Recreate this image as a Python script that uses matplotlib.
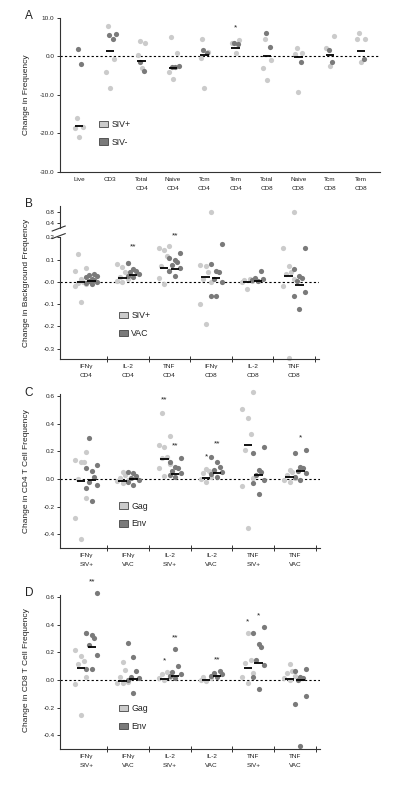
import numpy as np
import matplotlib
matplotlib.use("Agg")
from matplotlib import pyplot as plt
from matplotlib.patches import Patch

plt.rcParams['font.family'] = ['Liberation Sans', 'DejaVu Sans']

LIGHT = '#cbcbcb'
DARK = '#7a7a7a'
TXT = '#222222'

# ---- panel A : change in frequency ----
a_cats = ["Live", "CD3", "Total\nCD4", "Naive\nCD4", "Tcm\nCD4", "Tem\nCD4",
          "Total\nCD8", "Naive\nCD8", "Tcm\nCD8", "Tem\nCD8"]
a_pos = [[-16.1, -18.5, -18.7, -21.1],
         [7.9, -0.7, -4.2, -8.3],
         [3.4, 4.0, 0.3, -3.1],
         [5.1, 0.8, -4.0, -5.9],
         [4.5, 1.2, -0.5, -8.3],
         [4.2, 3.4, 0.8],
         [4.5, -1.0, -3.1, -6.3],
         [2.1, 0.8, 0.5, -9.3],
         [5.3, 2.1, -2.5],
         [6.1, 4.4, 4.4, -1.6]]
a_neg = [[1.9, -2.1],
         [4.5, 5.7, 5.6],
         [-1.5, -3.9],
         [-2.5, -2.9, -2.8],
         [1.6, 0.8],
         [3.1, 3.3],
         [6.0, 2.5],
         [-1.5],
         [1.5, -1.5],
         [-0.6]]
a_med = [-18.0, 1.3, -1.3, -3.1, 0.3, 2.2, 0.1, -0.3, 0.2, 1.3]
a_stars = ['', '', '', '', '', '*', '', '', '', '']

# ---- panel B : change in background frequency ----
b_cats = ["IFN\u03b3\nCD4", "IL-2\nCD4", "TNF\nCD4", "IFN\u03b3\nCD8", "IL-2\nCD8", "TNF\nCD8"]
b_siv = [[0.127, 0.064, 0.05, 0.012, 0.0, -0.005, -0.01, -0.018, -0.089],
         [0.084, 0.08, 0.066, 0.043, 0.02, 0.012, 0.0, 0.005],
         [0.16, 0.154, 0.145, 0.117, 0.07, 0.05, 0.017, -0.01],
         [0.8, 0.07, 0.075, 0.043, 0.012, 0.0, -0.1, -0.19],
         [0.012, 0.008, 0.005, 0.0, -0.033],
         [0.8, 0.15, 0.07, 0.043, 0.035, 0.012, -0.018, -0.343]]
b_vac = [[0.035, 0.03, 0.02, 0.012, 0.005, 0.0, -0.005, -0.012, 0.025, 0.01],
         [0.084, 0.058, 0.05, 0.043, 0.035, 0.027, 0.02],
         [0.13, 0.108, 0.096, 0.089, 0.075, 0.064, 0.05, 0.027],
         [0.168, 0.081, 0.047, 0.043, 0.012, 0.0, -0.065, -0.065],
         [0.05, 0.017, 0.012, 0.008, 0.005],
         [0.15, 0.058, 0.027, 0.017, 0.005, -0.044, -0.065, -0.12]]
b_med_siv = [-0.002, 0.017, 0.061, 0.023, -0.003, 0.027]
b_med_vac = [0.003, 0.032, 0.058, 0.017, 0.005, -0.013]
b_stars_siv = ['', '', '', '', '', '']
b_stars_vac = ['', '**', '**', '', '', '']

# ---- panel C : CD4 T cell ----
cd_cats = ["IFN\u03b3\nSIV+", "IFN\u03b3\nVAC", "IL-2\nSIV+", "IL-2\nVAC", "TNF\nSIV+", "TNF\nVAC"]
c_gag = [[0.198, 0.137, 0.125, 0.12, 0.0, -0.14, -0.284, -0.436],
         [0.053, 0.029, 0.005, -0.005, -0.015, -0.031],
         [0.48, 0.31, 0.246, 0.234, 0.161, 0.149, 0.106, 0.077, 0.024],
         [0.072, 0.055, 0.04, 0.017, 0.0, -0.019],
         [0.627, 0.504, 0.439, 0.323, 0.21, 0.005, -0.051, -0.352],
         [0.063, 0.048, 0.03, 0.01, -0.007, -0.019]]
c_env = [[0.294, 0.1, 0.082, 0.058, 0.017, -0.024, -0.043, -0.067, -0.159],
         [0.048, 0.041, 0.024, 0.005, -0.007, -0.019, -0.043],
         [0.149, 0.12, 0.089, 0.077, 0.058, 0.041, 0.017, 0.03],
         [0.161, 0.12, 0.089, 0.065, 0.048, 0.034, 0.017],
         [0.234, 0.19, 0.065, 0.048, 0.029, -0.007, -0.027, -0.106],
         [0.21, 0.186, 0.089, 0.077, 0.058, 0.041, 0.017, -0.007]]
c_med_gag = [-0.012, -0.012, 0.145, 0.01, 0.246, 0.014]
c_med_env = [-0.007, 0.0, 0.036, 0.043, 0.027, 0.055]
c_stars_gag = ['', '', '**', '*', '', '']
c_stars_env = ['', '', '**', '**', '', '*']

# ---- panel D : CD8 T cell ----
d_gag = [[0.342, 0.217, 0.173, 0.14, 0.116, 0.024, -0.029, -0.253],
         [0.133, 0.072, 0.019, -0.012, -0.024, -0.024],
         [0.06, 0.043, 0.024, 0.012, 0.0],
         [0.024, 0.012, 0.0, -0.005],
         [0.342, 0.145, 0.12, 0.048, 0.019, -0.019],
         [0.113, 0.067, 0.048, 0.029, 0.012, 0.0]]
d_env = [[0.631, 0.342, 0.325, 0.301, 0.253, 0.181, 0.077, 0.077],
         [0.27, 0.169, 0.067, 0.024, 0.012, 0.0, -0.096],
         [0.224, 0.101, 0.06, 0.043, 0.029, 0.012],
         [0.067, 0.053, 0.043, 0.029, 0.019],
         [0.381, 0.342, 0.26, 0.236, 0.145, 0.108, 0.019, -0.063],
         [0.077, 0.067, 0.024, 0.012, 0.0, -0.113, -0.176, -0.475]]
d_med_gag = [0.087, -0.005, 0.005, 0.0, 0.087, 0.005]
d_med_env = [0.236, 0.01, 0.029, 0.029, 0.125, 0.0]
d_stars_gag = ['', '', '*', '', '*', '']
d_stars_env = ['**', '', '**', '**', '*', '']


def spread(vals, w):
    # simple deterministic swarm: neighbours in value get different offsets
    pattern = [0.0, -1.0, 1.0, -0.5, 0.5]
    offs = np.zeros(len(vals))
    for k, i in enumerate(np.argsort(vals)):
        offs[i] = pattern[k % len(pattern)] * w
    return offs


def style_axes(ax):
    for s in ['top', 'right']:
        ax.spines[s].set_visible(False)
    for s in ['left', 'bottom']:
        ax.spines[s].set_color('#333333')
        ax.spines[s].set_linewidth(0.8)
    ax.tick_params(axis='y', labelsize=4.6, length=2.5, width=0.7, pad=1.5,
                   colors='#333333', labelcolor=TXT)


def draw_group(ax, data, med, stars, shift, color, w, mw, pad, lo=None, hi=None, lines=True):
    # lo/hi: only draw the points inside this value range (used for the broken axis)
    for i, vals in enumerate(data):
        vals = np.array(vals)
        x = i + shift + spread(vals, w)
        keep = np.ones(len(vals), bool)
        if lo is not None:
            keep &= vals >= lo
        if hi is not None:
            keep &= vals <= hi
        ax.scatter(x[keep], vals[keep], s=14, color=color, linewidths=0, zorder=2,
                   clip_on=False)
        if not lines:
            continue
        if mw > 0:
            ax.plot([i + shift - mw / 2, i + shift + mw / 2], [med[i], med[i]],
                    color='black', lw=1.3, zorder=3, solid_capstyle='butt')
        if stars[i]:
            ax.annotate(stars[i], (i + shift, max(vals)), xytext=(0, pad),
                        textcoords='offset points', ha='center', va='center',
                        fontsize=6, color=TXT, annotation_clip=False)


def cat_xaxis(ax, cats):
    n = len(cats)
    ax.set_xlim(-0.63, n - 0.4)
    ax.set_xticks(np.arange(n) + 0.5)
    ax.set_xticklabels([])
    ax.set_xticks(np.arange(n), minor=True)
    ax.set_xticklabels(cats, minor=True, fontsize=4.6, color=TXT, linespacing=2.0)
    ax.tick_params(axis='x', which='major', direction='inout', length=5, width=0.7,
                   colors='#333333')
    ax.tick_params(axis='x', which='minor', length=0, pad=3.5)


def zero_line(ax):
    ax.axhline(0, color='black', lw=0.8, ls=(0, (2, 2)), zorder=1)


def add_legend(ax, labels, x, y):
    handles = [Patch(facecolor=LIGHT, edgecolor='#444444', lw=0.6),
               Patch(facecolor=DARK, edgecolor='#444444', lw=0.6)]
    ax.legend(handles, labels, loc='center left', bbox_to_anchor=(x, y), frameon=False,
              fontsize=6.3, handlelength=1.0, handleheight=0.75, handletextpad=0.4,
              labelspacing=1.0, borderpad=0, borderaxespad=0, labelcolor=TXT)


W, H = 400, 789
fig = plt.figure(figsize=(W / 100, H / 100), dpi=100)


def rect(left, top, right, bottom):
    return [left / W, 1 - bottom / H, (right - left) / W, (bottom - top) / H]


# ---------- A ----------
axA = fig.add_axes(rect(60, 17.7, 380, 171.7))
style_axes(axA)
zero_line(axA)
draw_group(axA, a_pos, a_med, a_stars, 0.0, LIGHT, 0.12, 0.27, 9)
draw_group(axA, a_neg, a_med, ['' for s in a_stars], 0.08, DARK, 0.12, 0.0, 9)
axA.set_xlim(-0.6, 9.6)
axA.set_ylim(-30, 10)
axA.set_yticks([10, 0, -10, -20, -30])
axA.set_yticklabels(['10.0', '0.0', '-10.0', '-20.0', '-30.0'])
axA.set_xticks(np.arange(len(a_cats)))
axA.set_xticklabels(a_cats, fontsize=4.6, color=TXT, linespacing=2.0)
axA.tick_params(axis='x', length=0, pad=4)
add_legend(axA, ['SIV+', 'SIV-'], 0.122, 0.25)

# ---------- B (broken axis) ----------
axB = fig.add_axes(rect(60, 237.3, 319, 359.3))
axBt = fig.add_axes(rect(60, 205.7, 319, 228.3))
style_axes(axB)
style_axes(axBt)
zero_line(axB)
draw_group(axB, b_siv, b_med_siv, b_stars_siv, -0.13, LIGHT, 0.13, 0.2, 12, hi=0.2)
draw_group(axB, b_vac, b_med_vac, b_stars_vac, 0.13, DARK, 0.13, 0.2, 12, hi=0.2)
draw_group(axBt, b_siv, b_med_siv, b_stars_siv, -0.13, LIGHT, 0.13, 0.2, 12, lo=0.3, lines=False)
draw_group(axBt, b_vac, b_med_vac, b_stars_vac, 0.13, DARK, 0.13, 0.2, 12, lo=0.3, lines=False)
axBt.set_xlim(-0.63, 5.6)
axB.set_ylim(-0.348, 0.2)
axB.set_yticks([0.2, 0.1, 0.0, -0.1, -0.2, -0.3])
axB.set_yticklabels(['0.2', '0.1', '-0.0', '-0.1', '-0.2', '-0.3'])
cat_xaxis(axB, b_cats)
axBt.set_ylim(0.218, 1.04)
axBt.set_yticks([0.8, 0.4])
axBt.set_yticklabels(['0.8', '0.4'])
axBt.spines['bottom'].set_visible(False)
axBt.set_xticks([])
# break marks on the y axis
axBt.plot([-0.03, 0.02], [-0.12, 0.1], transform=axBt.transAxes, color='#333333',
          lw=0.8, clip_on=False)
axB.plot([-0.03, 0.02], [0.99, 1.03], transform=axB.transAxes, color='#333333',
         lw=0.8, clip_on=False)
add_legend(axB, ['SIV+', 'VAC'], 0.228, 0.285)

# ---------- C ----------
axC = fig.add_axes(rect(60, 393.8, 320, 548.4))
style_axes(axC)
zero_line(axC)
draw_group(axC, c_gag, c_med_gag, c_stars_gag, -0.13, LIGHT, 0.13, 0.2, 9)
draw_group(axC, c_env, c_med_env, c_stars_env, 0.13, DARK, 0.13, 0.2, 9)
axC.set_ylim(-0.501, 0.615)
axC.set_yticks([0.6, 0.4, 0.2, 0.0, -0.2, -0.4])
axC.set_yticklabels(['0.6', '0.4', '0.2', '0.0', '-0.2', '-0.4'])
cat_xaxis(axC, cd_cats)
add_legend(axC, ['Gag', 'Env'], 0.227, 0.216)

# ---------- D ----------
axD = fig.add_axes(rect(60, 594.8, 320, 749.1))
style_axes(axD)
zero_line(axD)
draw_group(axD, d_gag, d_med_gag, d_stars_gag, -0.13, LIGHT, 0.13, 0.2, 8)
draw_group(axD, d_env, d_med_env, d_stars_env, 0.13, DARK, 0.13, 0.2, 8)
axD.set_ylim(-0.499, 0.615)
axD.set_yticks([0.6, 0.4, 0.2, 0.0, -0.2, -0.4])
axD.set_yticklabels(['0.6', '0.4', '0.2', '0.0', '-0.2', '-0.4'])
cat_xaxis(axD, cd_cats)
add_legend(axD, ['Gag', 'Env'], 0.227, 0.205)

# y labels and panel letters
ylabels = [("Change in Frequency", 94.7), ("Change in Background Frequency", 282.5),
           ("Change in CD4 T Cell Frequency", 471.1), ("Change in CD8 T Cell Frequency", 670)]
for txt, yc in ylabels:
    fig.text(27 / W, 1 - yc / H, txt, rotation=90, ha='center', va='center',
             fontsize=6, color=TXT)
for letter, yc in [("A", 16), ("B", 204), ("C", 393), ("D", 593)]:
    fig.text(29 / W, 1 - yc / H, letter, ha='center', va='center', fontsize=8.5, color=TXT)

fig.savefig("out.png", dpi=100, facecolor='white')
